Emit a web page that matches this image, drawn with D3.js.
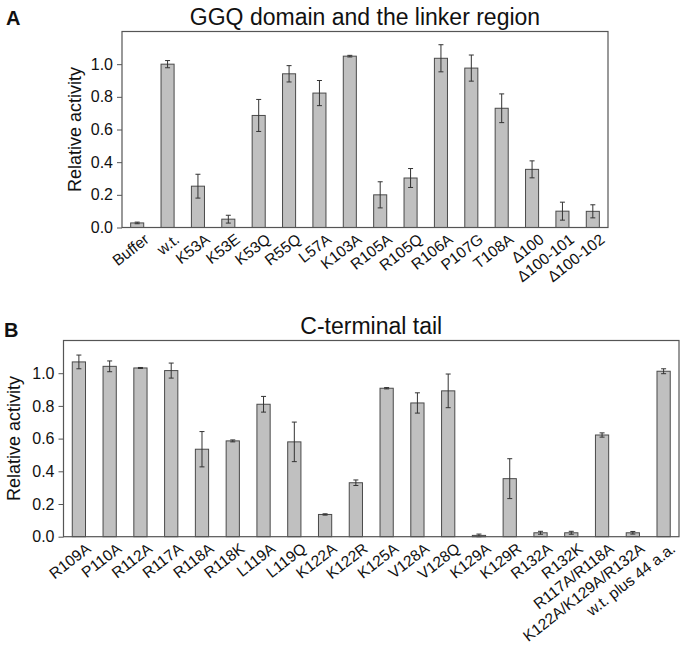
<!DOCTYPE html>
<html><head><meta charset="utf-8">
<script src="https://cdn.jsdelivr.net/npm/d3@7"></script>
<style>
html,body{margin:0;padding:0;background:#fff;}
svg{display:block;font-family:"Liberation Sans",Arial,sans-serif;}
</style></head>
<body>
<svg id="chart" width="683" height="650"></svg>
<script>
// Panel A data
const catsA = ["Buffer","w.t.","K53A","K53E","K53Q","R55Q","L57A","K103A","R105A","R105Q","R106A","P107G","T108A","Δ100","Δ100-101","Δ100-102"];
const valsA = [0.028,1.0,0.253,0.051,0.686,0.941,0.823,1.049,0.2,0.303,1.036,0.976,0.73,0.356,0.1,0.099];
const errA  = [0.005,0.022,0.073,0.024,0.098,0.05,0.077,0.005,0.08,0.058,0.083,0.08,0.088,0.052,0.055,0.04];
// Panel B data
const catsB = ["R109A","P110A","R112A","R117A","R118A","R118K","L119A","L119Q","K122A","K122R","K125A","V128A","V128Q","K129A","K129R","R132A","R132K","R117A/R118A","K122A/K129A/R132A","w.t. plus 44 a.a."];
const valsB = [1.069,1.042,1.032,1.016,0.535,0.586,0.81,0.58,0.136,0.33,0.908,0.818,0.892,0.008,0.355,0.024,0.024,0.622,0.024,1.012];
const errB  = [0.042,0.033,0.003,0.046,0.108,0.006,0.048,0.121,0.004,0.017,0.004,0.062,0.103,0.008,0.122,0.009,0.009,0.013,0.008,0.015];
const yTicks = [0,0.2,0.4,0.6,0.8,1.0];
const titles = ["GGQ domain and the linker region","C-terminal tail"];
const panelLetters = ["A","B"];
const yLabel = "Relative activity";

const svg = d3.select("#chart");

function panel(cfg){
  const {cats, vals, errs, left, right, top, bottom, title, letter, letterPos, yTitleX, titleY} = cfg;
  const x = d3.scaleBand().domain(cats).range([left, right]);
  const y = d3.scaleLinear().domain([0,1.2]).range([bottom, top]);
  const g = svg.append("g");
  const bw = x.bandwidth()*0.43;

  g.selectAll("rect.bar").data(cats).join("rect")
    .attr("x", d => x(d) + (x.bandwidth()-bw)/2)
    .attr("y", (d,i) => y(vals[i]))
    .attr("width", bw)
    .attr("height", (d,i) => y(0)-y(vals[i]))
    .attr("fill","#c0c0c0").attr("stroke","#4a4a4a").attr("stroke-width",1);

  const eg = g.selectAll("g.err").data(cats).join("g");
  eg.each(function(d,i){
    const cx = x(d)+x.bandwidth()/2;
    const e = d3.select(this);
    const y1 = y(vals[i]+errs[i]), y2 = y(Math.max(0,vals[i]-errs[i]));
    e.append("line").attr("x1",cx).attr("x2",cx).attr("y1",y1).attr("y2",y2).attr("stroke","#333").attr("stroke-width",1);
    e.append("line").attr("x1",cx-2.5).attr("x2",cx+2.5).attr("y1",y1).attr("y2",y1).attr("stroke","#333").attr("stroke-width",1);
    e.append("line").attr("x1",cx-2.5).attr("x2",cx+2.5).attr("y1",y2).attr("y2",y2).attr("stroke","#333").attr("stroke-width",1);
  });

  g.append("rect").attr("x",left).attr("y",top).attr("width",right-left).attr("height",bottom-top)
    .attr("fill","none").attr("stroke","#555").attr("stroke-width",1.2);

  const ya = g.append("g").attr("transform",`translate(${left},0)`)
    .call(d3.axisLeft(y).tickValues(yTicks).tickFormat(d3.format(".1f")).tickSize(5).tickPadding(4));
  ya.select(".domain").remove();
  ya.selectAll(".tick line").attr("stroke","#555");
  ya.selectAll("text").attr("font-size",16).attr("fill","#111").attr("font-family","Liberation Sans, Arial, sans-serif");

  const xa = g.append("g").attr("transform",`translate(0,${bottom})`)
    .call(d3.axisBottom(x).tickSize(0).tickPadding(0));
  xa.select(".domain").remove();
  xa.selectAll(".tick text")
    .attr("font-size",15.5).attr("fill","#111").attr("font-family","Liberation Sans, Arial, sans-serif")
    .attr("text-anchor","end").attr("dy",null).attr("y",0).attr("x",0)
    .attr("transform","translate(6,5) rotate(-38)")
    .attr("dominant-baseline","hanging");

  g.append("text").attr("transform",`translate(${yTitleX},${(top+bottom)/2}) rotate(-90)`)
    .attr("text-anchor","middle").attr("dominant-baseline","central")
    .attr("font-size",18).attr("fill","#111").text(yLabel);

  g.append("text").attr("x",(left+right)/2).attr("y",titleY).attr("text-anchor","middle")
    .attr("font-size",23).attr("fill","#111").text(title);

  g.append("text").attr("x",letterPos[0]).attr("y",letterPos[1])
    .attr("font-size",20).attr("font-weight","bold").attr("fill","#111").text(letter);
}

panel({cats:catsA, vals:valsA, errs:errA, left:122, right:608, top:31.5, bottom:227.5,
  title:titles[0], letter:panelLetters[0], letterPos:[6,25], yTitleX:75, titleY:25});
panel({cats:catsB, vals:valsB, errs:errB, left:63.5, right:679, top:340.5, bottom:536.7,
  title:titles[1], letter:panelLetters[1], letterPos:[4,337], yTitleX:14, titleY:334});
</script>
</body></html>
